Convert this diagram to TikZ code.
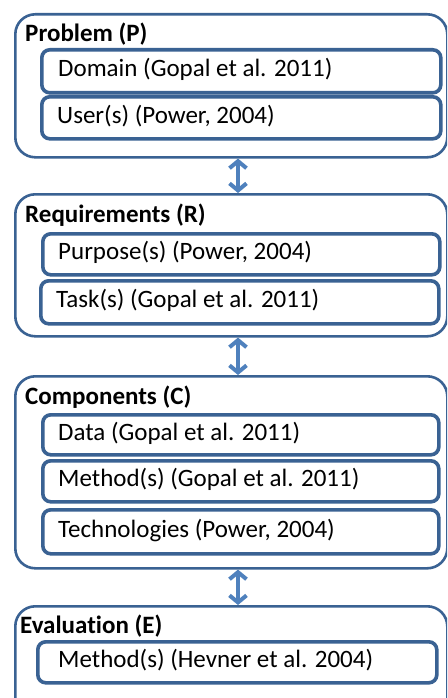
\documentclass[tikz,border=0pt]{standalone}
\usepackage{fontspec}
\setmainfont{Carlito}[Ligatures=NoCommon]
\usetikzlibrary{arrows.meta}
\definecolor{boxline}{HTML}{3A6293}
\definecolor{arrowc}{HTML}{4F81BD}
\begin{document}
\begin{tikzpicture}[x=1pt,y=-1pt,
  outer/.style={draw=boxline, line width=2.6pt, rounded corners=20pt, anchor=north west, inner sep=0pt},
  inner/.style={draw=boxline, line width=3.6pt, rounded corners=8pt, anchor=north west, inner sep=0pt},
  title/.style={anchor=west, font=\fontsize{25}{30}\selectfont\bfseries, inner sep=0pt},
  label/.style={anchor=west, font=\fontsize{25}{30}\selectfont, inner sep=0pt},
  link/.style={draw=arrowc, line width=4pt, {Straight Barb[length=7pt,width=17pt]}-{Straight Barb[length=7pt,width=17pt]}}]
\clip (0,0) rectangle (447,698);
\path[fill=white] (0,0) rectangle (447,698);
% Problem
\node[outer, minimum width=432pt, minimum height=143pt] (P) at (14,13) {};
\node[title] (Pt) at (25,34) {Problem (P)};
\node[inner, minimum width=399pt, minimum height=43pt] (P1) at (40,48) {};
\node[label] (P1t) at (58,69.5) {Domain (Gopal et al. 2011)};
\node[inner, minimum width=399pt, minimum height=42pt] (P2) at (40,95) {};
\node[label] (P2t) at (57,116) {User(s) (Power, 2004)};
% Requirements
\node[outer, minimum width=432pt, minimum height=142pt] (R) at (14,193) {};
\node[title] (Rt) at (25,215) {Requirements (R)};
\node[inner, minimum width=397pt, minimum height=41pt] (R1) at (41,232) {};
\node[label] (R1t) at (58,252.5) {Purpose(s) (Power, 2004)};
\node[inner, minimum width=398pt, minimum height=43pt] (R2) at (39,279) {};
\node[label] (R2t) at (56,300.5) {Task(s) (Gopal et al. 2011)};
% Components
\node[outer, minimum width=432pt, minimum height=192pt] (C) at (14,375) {};
\node[title] (Ct) at (25,397) {Components (C)};
\node[inner, minimum width=396pt, minimum height=40pt] (C1) at (41,413) {};
\node[label] (C1t) at (58,433) {Data (Gopal et al. 2011)};
\node[inner, minimum width=396pt, minimum height=41pt] (C2) at (41,459) {};
\node[label] (C2t) at (58,479.5) {Method(s) (Gopal et al. 2011)};
\node[inner, minimum width=396pt, minimum height=44pt] (C3) at (41,508) {};
\node[label] (C3t) at (58,530) {Technologies (Power, 2004)};
% Evaluation
\node[outer, minimum width=432pt, minimum height=115pt] (E) at (14,605) {};
\node[title] (Et) at (20,626) {Evaluation (E)};
\node[inner, minimum width=399pt, minimum height=41pt] (E1) at (36,640) {};
\node[label] (E1t) at (58,660.5) {Method(s) (Hevner et al. 2004)};
% connectors
\coordinate (ax) at (238,0);
\draw[link] (P.south -| ax) -- (R.north -| ax);
\draw[link] (R.south -| ax) -- (C.north -| ax);
\draw[link] (C.south -| ax) -- (E.north -| ax);
\end{tikzpicture}
\end{document}
